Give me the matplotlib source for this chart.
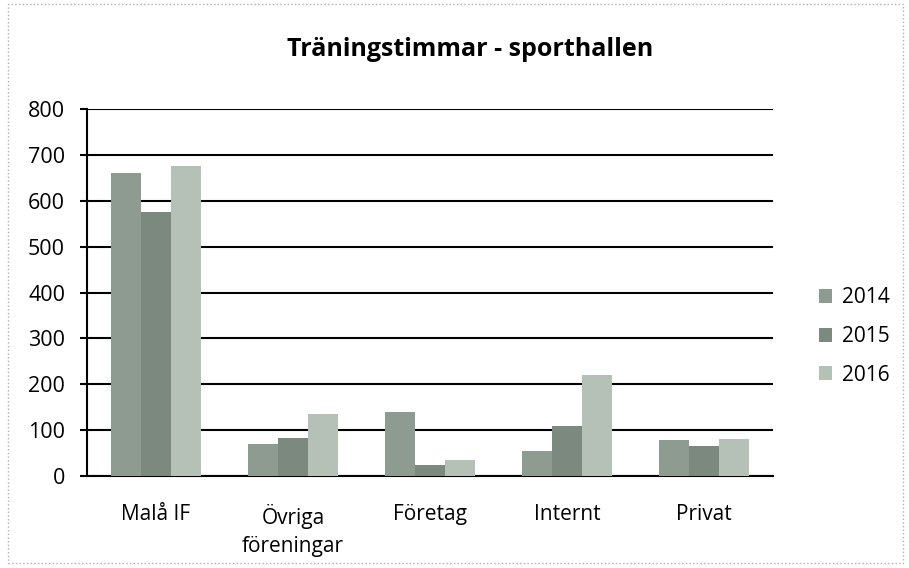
import matplotlib

matplotlib.use("Agg")
import matplotlib.pyplot as plt
import numpy as np
from matplotlib.patches import Rectangle

categories = ["Malå IF", "Övriga\nföreningar", "Företag", "Internt", "Privat"]
years = ["2014", "2015", "2016"]
v2014 = [660, 70, 140, 55, 78]
v2015 = [575, 82, 25, 108, 66]
v2016 = [675, 135, 35, 220, 80]
yticks = [0, 100, 200, 300, 400, 500, 600, 700, 800]

colors = ["#8d9b90", "#7b897e", "#b5c0b7"]

plt.rcParams["font.family"] = ["Open Sans", "DejaVu Sans"]

fig = plt.figure(figsize=(9.09, 5.68), dpi=100)
ax = fig.add_axes([0.096, 0.162, 0.754, 0.646])

# frame around the whole chart
fig.patches.append(Rectangle((0.009, 0.008), 0.984, 0.985, transform=fig.transFigure,
                             fill=False, edgecolor="#b0b0b0", linewidth=1.0,
                             linestyle=":"))

x = np.arange(len(categories))
w = 0.22
for i, (vals, lab) in enumerate(zip([v2014, v2015, v2016], years)):
    ax.bar(x + (i - 1) * w, vals, width=w, color=colors[i], label=lab, zorder=3)

ax.set_ylim(0, 800)
ax.set_xlim(-0.5, len(categories) - 0.5)
ax.set_yticks(yticks)
ax.yaxis.grid(True, color="black", linewidth=1.5, zorder=1)
ax.set_axisbelow(True)
for s in ["top", "right"]:
    ax.spines[s].set_visible(False)
ax.spines["left"].set_linewidth(1.5)
ax.spines["bottom"].set_linewidth(1.5)
ax.tick_params(axis="y", length=5, width=1.5, labelsize=15.5, pad=11)
ax.tick_params(axis="x", length=0, labelsize=15, pad=20)
ax.set_xticks(x)
ax.set_xticklabels(categories, linespacing=1.45)

fig.suptitle("Träningstimmar - sporthallen", x=0.517, y=0.935, fontsize=18,
             fontweight="bold")

ax.legend(loc="center left", bbox_to_anchor=(1.04, 0.38), frameon=False,
          fontsize=15, handlelength=0.65, handleheight=0.65, handletextpad=0.45,
          labelspacing=0.85)

fig.savefig("out.png", dpi=100)
